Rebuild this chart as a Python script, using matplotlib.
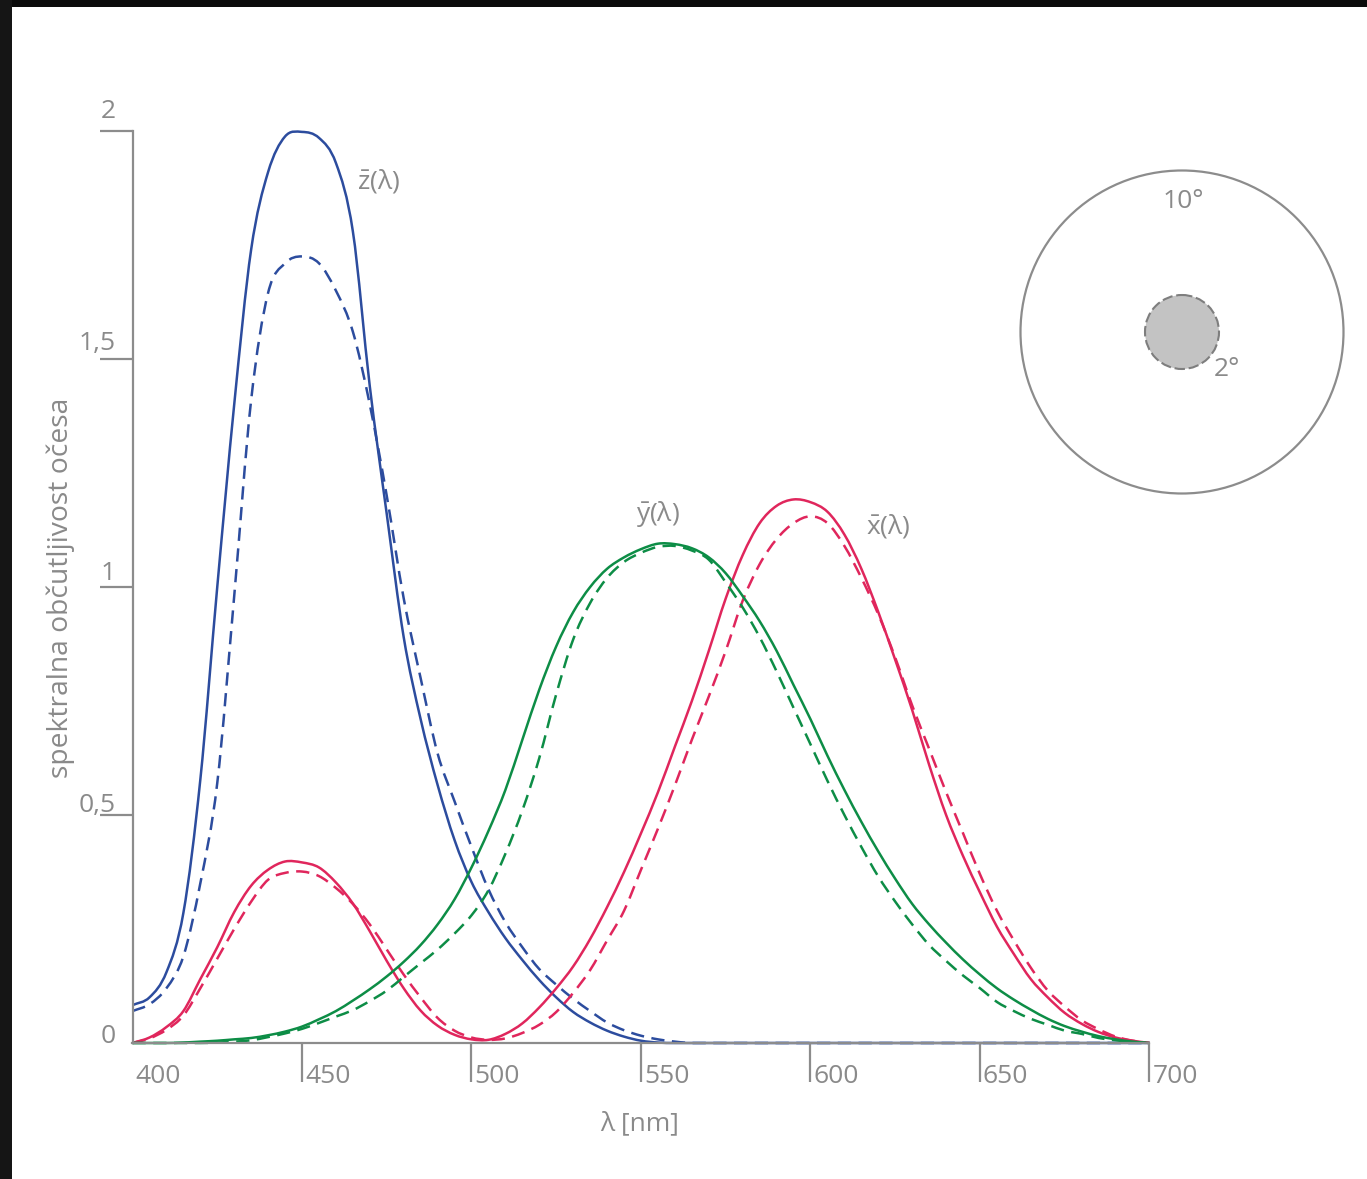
import matplotlib
matplotlib.use('Agg')
import numpy as np
import matplotlib.pyplot as plt
from matplotlib.patches import Circle, Rectangle, PathPatch
from matplotlib.path import Path
from matplotlib.transforms import offset_copy

plt.rcParams['font.family'] = ['Open Sans', 'DejaVu Sans']
plt.rcParams['mathtext.fontset'] = 'custom'
plt.rcParams['mathtext.rm'] = 'Open Sans'
plt.rcParams['mathtext.it'] = 'Open Sans'
plt.rcParams['mathtext.bf'] = 'Open Sans:bold'

# ---------------- data ----------------
wavelength = list(range(400, 705, 5))

# 10 degree observer (solid)
z_bar_10 = [0.083, 0.10, 0.155, 0.285, 0.577, 1.0, 1.40, 1.74, 1.91, 1.988,
            1.998, 1.985, 1.93, 1.78, 1.44, 1.16, 0.89, 0.71, 0.566, 0.445,
            0.353, 0.287, 0.23, 0.182, 0.138, 0.10, 0.068, 0.045, 0.027, 0.014,
            0.005, 0.001, 0.0, 0.0, 0.0, 0.0, 0.0, 0.0, 0.0, 0.0,
            0.0, 0.0, 0.0, 0.0, 0.0, 0.0, 0.0, 0.0, 0.0, 0.0,
            0.0, 0.0, 0.0, 0.0, 0.0, 0.0, 0.0, 0.0, 0.0, 0.0, 0.0]
y_bar_10 = [0.0, 0.0, 0.0, 0.001, 0.003, 0.005, 0.008, 0.011, 0.017, 0.025,
            0.036, 0.052, 0.07, 0.093, 0.118, 0.146, 0.178, 0.215, 0.26, 0.315,
            0.385, 0.465, 0.555, 0.665, 0.775, 0.87, 0.945, 1.0, 1.04, 1.065,
            1.083, 1.095, 1.094, 1.085, 1.065, 1.03, 0.98, 0.925, 0.86, 0.785,
            0.71, 0.63, 0.555, 0.485, 0.42, 0.36, 0.305, 0.26, 0.22, 0.183,
            0.15, 0.12, 0.095, 0.073, 0.053, 0.037, 0.025, 0.015, 0.008, 0.003, 0.0]
x_bar_10 = [0.0, 0.012, 0.035, 0.07, 0.14, 0.21, 0.287, 0.345, 0.38, 0.398,
            0.396, 0.385, 0.352, 0.306, 0.245, 0.18, 0.12, 0.071, 0.038, 0.018,
            0.008, 0.007, 0.02, 0.043, 0.078, 0.12, 0.168, 0.228, 0.298, 0.375,
            0.46, 0.55, 0.65, 0.75, 0.86, 0.975, 1.07, 1.14, 1.178, 1.192,
            1.186, 1.165, 1.115, 1.04, 0.945, 0.84, 0.73, 0.61, 0.50, 0.41,
            0.33, 0.255, 0.195, 0.14, 0.10, 0.066, 0.042, 0.024, 0.012, 0.005, 0.0]

# 2 degree observer (dashed)
z_bar_2 = [0.07, 0.085, 0.12, 0.19, 0.35, 0.57, 0.98, 1.41, 1.645, 1.71,
           1.725, 1.71, 1.65, 1.56, 1.40, 1.20, 0.975, 0.80, 0.635, 0.53,
           0.43, 0.337, 0.265, 0.21, 0.162, 0.128, 0.097, 0.07, 0.045, 0.028,
           0.016, 0.008, 0.003, 0.0, 0.0, 0.0, 0.0, 0.0, 0.0, 0.0,
           0.0, 0.0, 0.0, 0.0, 0.0, 0.0, 0.0, 0.0, 0.0, 0.0,
           0.0, 0.0, 0.0, 0.0, 0.0, 0.0, 0.0, 0.0, 0.0, 0.0, 0.0]
y_bar_2 = [0.0, 0.0, 0.0, 0.0, 0.0, 0.001, 0.003, 0.006, 0.013, 0.021,
           0.031, 0.044, 0.058, 0.072, 0.092, 0.115, 0.145, 0.175, 0.205, 0.24,
           0.28, 0.335, 0.415, 0.51, 0.625, 0.765, 0.885, 0.965, 1.02, 1.055,
           1.075, 1.088, 1.09, 1.08, 1.06, 1.01, 0.955, 0.89, 0.815, 0.735,
           0.655, 0.575, 0.50, 0.43, 0.365, 0.31, 0.26, 0.215, 0.18, 0.148,
           0.12, 0.09, 0.07, 0.053, 0.04, 0.027, 0.02, 0.011, 0.006, 0.002, 0.0]
x_bar_2 = [0.0, 0.01, 0.029, 0.06, 0.12, 0.185, 0.25, 0.31, 0.358, 0.373,
           0.376, 0.366, 0.34, 0.305, 0.26, 0.205, 0.15, 0.10, 0.055, 0.027,
           0.012, 0.007, 0.01, 0.022, 0.04, 0.068, 0.11, 0.16, 0.225, 0.29,
           0.38, 0.47, 0.565, 0.665, 0.76, 0.86, 0.97, 1.05, 1.105, 1.14,
           1.155, 1.14, 1.09, 1.02, 0.94, 0.845, 0.74, 0.645, 0.55, 0.46,
           0.37, 0.29, 0.225, 0.165, 0.115, 0.08, 0.05, 0.03, 0.014, 0.005, 0.0]

x_ticks = [400, 450, 500, 550, 600, 650, 700]
x_tick_labels = ['400', '450', '500', '550', '600', '650', '700']
y_ticks = [0, 0.5, 1, 1.5, 2]
y_tick_labels = ['0', '0,5', '1', '1,5', '2']

curve_labels = [r'$\bar{z}(\lambda)$', r'$\bar{y}(\lambda)$', r'$\bar{x}(\lambda)$']
curve_label_pos = [(472.7, 1.89), (555.0, 1.16), (622.9, 1.134)]
x_label = 'λ [nm]'
y_label = 'spektralna občutljivost očesa'
field_labels = ['10°', '2°']

# ---------------- style ----------------
BLUE = '#2c4c9e'
RED = '#e0265c'
GREEN = '#0d8d46'
GREY = '#8c8c8c'
TXT = '#8a8a8a'
LW = 1.8
DASH = (5.3, 3.0)
FS = 19


def smooth_path(xs, ys):
    """Cubic (Catmull-Rom style) Bezier path passing through the given points."""
    x = np.asarray(xs, float)
    y = np.asarray(ys, float)
    h = np.diff(x)
    d = np.diff(y) / h
    m = np.empty_like(y)
    m[0], m[-1] = d[0], d[-1]
    m[1:-1] = (y[2:] - y[:-2]) / (x[2:] - x[:-2])
    # keep flat stretches flat
    flat = np.zeros_like(y, dtype=bool)
    flat[1:-1] = (d[:-1] == 0) | (d[1:] == 0)
    m[flat] = 0.0
    verts = [(x[0], y[0])]
    codes = [Path.MOVETO]
    for k in range(len(x) - 1):
        verts += [(x[k] + h[k] / 3, y[k] + m[k] * h[k] / 3),
                  (x[k + 1] - h[k] / 3, y[k + 1] - m[k + 1] * h[k] / 3),
                  (x[k + 1], y[k + 1])]
        codes += [Path.CURVE4] * 3
    return Path(verts, codes)


def draw_curve(ax, xs, ys, color, dashed=False):
    ls = (0, DASH) if dashed else '-'
    p = PathPatch(smooth_path(xs, ys), fill=False, edgecolor=color, lw=LW,
                  linestyle=ls, transform=ax.transData, clip_on=False,
                  capstyle='butt', joinstyle='round')
    ax.add_patch(p)


W, H = 1367, 1179
fig = plt.figure(figsize=(W / 100, H / 100), dpi=100, facecolor='white')

# pixel overlay for frame, inset circles and free labels
ov = fig.add_axes([0, 0, 1, 1], zorder=3)
ov.set_xlim(0, W)
ov.set_ylim(H, 0)
ov.axis('off')
ov.patch.set_alpha(0)
ov.add_patch(Rectangle((0, 0), W, 7, color='#0b0b0b', lw=0))
ov.add_patch(Rectangle((0, 0), 12, H, color='#151515', lw=0))

# main axes
ax = fig.add_axes([132.5 / W, (H - 1043) / H, (1149.5 - 132.5) / W, (1043 - 131) / H], zorder=2)
ax.patch.set_alpha(0)
ax.set_xlim(400, 700)
ax.set_ylim(0, 2)
for s in ['top', 'right']:
    ax.spines[s].set_visible(False)
for s in ['left', 'bottom']:
    ax.spines[s].set_color(GREY)
    ax.spines[s].set_linewidth(1.6)

ax.set_xticks(x_ticks)
ax.set_xticklabels([])
ax.tick_params(axis='x', direction='out', length=28, width=1.6, color=GREY)
ax.xaxis.get_major_ticks()[0].tick1line.set_visible(False)
ax.set_yticks(y_ticks)
ax.set_yticklabels([])
ax.tick_params(axis='y', direction='out', length=24, width=1.6, color=GREY)
ax.yaxis.get_major_ticks()[0].tick1line.set_visible(False)

# curves
draw_curve(ax, wavelength, z_bar_10, BLUE)
draw_curve(ax, wavelength, z_bar_2, BLUE, dashed=True)
draw_curve(ax, wavelength, x_bar_10, RED)
draw_curve(ax, wavelength, x_bar_2, RED, dashed=True)
draw_curve(ax, wavelength, y_bar_10, GREEN)
draw_curve(ax, wavelength, y_bar_2, GREEN, dashed=True)

# tick labels
for t, lab in zip(x_ticks, x_tick_labels):
    tr = offset_copy(ax.get_xaxis_transform(), fig=fig, x=3, y=-40, units='dots')
    ax.text(t, 0, lab, transform=tr, ha='left', va='baseline', fontsize=FS,
            color=TXT, clip_on=False)
y_label_lift = [0, 3, 7, 9, 13]
for t, lab, dy in zip(y_ticks, y_tick_labels, y_label_lift):
    tr = offset_copy(ax.get_yaxis_transform(), fig=fig, x=-17, y=dy, units='dots')
    ax.text(0, t, lab, transform=tr, ha='right', va='baseline', fontsize=FS,
            color=TXT, clip_on=False)

# curve labels
for lab, (lx, ly) in zip(curve_labels, curve_label_pos):
    ax.text(lx, ly, lab, ha='center', va='center', fontsize=FS, color=TXT)

# axis titles
ov.text(640, 1130, x_label, ha='center', va='baseline', fontsize=FS, color=TXT)
ov.text(61, 588, y_label, ha='center', va='center', rotation=90, fontsize=20.3, color=TXT)

# field-of-view inset
ov.add_patch(Circle((1182, 332), 161.5, fill=False, ec=GREY, lw=1.6))
ov.add_patch(Circle((1182, 332), 37, fc='#c3c3c3', ec='#7e7e7e', lw=1.5,
                    linestyle=(0, (5, 1.8))))
ov.text(1183, 201, field_labels[0], ha='center', va='center', fontsize=FS, color=TXT)
ov.text(1227, 369, field_labels[1], ha='center', va='center', fontsize=FS, color=TXT)

fig.savefig('out.png', dpi=100, facecolor='white')
